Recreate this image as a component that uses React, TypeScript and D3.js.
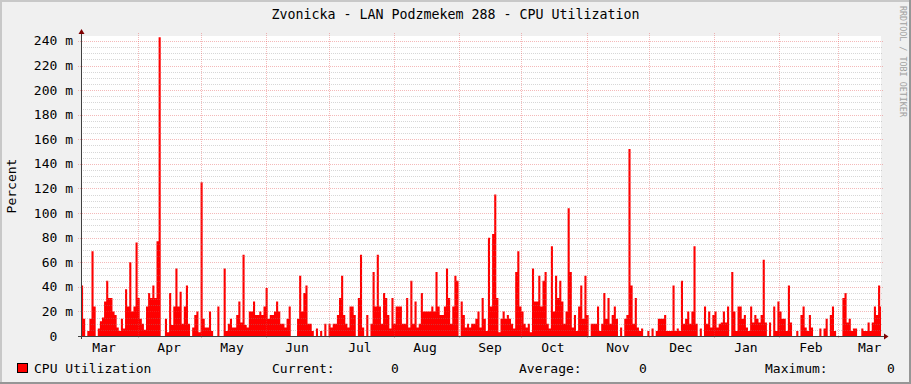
import React from "react";
import * as d3 from "d3";

const title = "Zvonicka - LAN Podzmekem 288 - CPU Utilization";
const yAxisTitle = "Percent";
const seriesName = "CPU Utilization";
const watermark = "RRDTOOL / TOBI OETIKER";

// time span of the graph (one value per day)
const startDate = new Date(2013, 2, 5);
const endDate = new Date(2014, 2, 21, 9, 36);

// daily CPU utilization values, in milli-percent
const cpuMilli: number[] = [
  // Mar - May
  41, 14, 0, 4, 14, 69, 24, 0, 6, 12, 15, 28, 45, 31, 31, 20, 17, 7, 4, 14,
  6, 38, 24, 60, 20, 24, 76, 31, 14, 10, 5, 24, 35, 31, 41, 31, 77, 243, 0, 0,
  14, 3, 35, 9, 24, 55, 24, 36, 10, 24, 41, 10, 0, 7, 17, 20, 3, 125, 14, 7,
  7, 20, 4, 0, 0, 24, 0, 0, 55, 4, 10, 14, 7, 7, 17, 28,
  // May - Jul
  11, 66, 9, 7, 20, 20, 28, 17, 17, 20, 17, 24, 39, 14, 17, 17, 20, 28, 20, 10,
  10, 7, 14, 24, 0, 0, 0, 14, 49, 20, 35, 41, 10, 10, 4, 0, 6, 0, 4, 0,
  10, 0, 10, 7, 10, 10, 17, 31, 49, 17, 10, 7, 24, 24, 17, 0, 31, 66, 7, 0,
  17, 0, 10, 52, 24, 66, 24, 10, 35, 31, 17, 6, 31, 10, 24, 24,
  // Jul - Oct
  24, 10, 10, 31, 7, 45, 10, 28, 7, 10, 35, 20, 20, 20, 20, 24, 20, 52, 24, 17,
  17, 24, 55, 31, 10, 24, 49, 45, 0, 28, 17, 7, 10, 7, 10, 10, 14, 20, 7, 31,
  14, 4, 80, 24, 83, 115, 31, 3, 14, 20, 14, 17, 14, 10, 6, 52, 69, 24, 20, 10,
  7, 10, 3, 55, 28, 28, 49, 24, 45, 52, 10, 6, 73, 20, 49, 31, 45,
  // Oct - Dec
  28, 10, 20, 104, 52, 7, 17, 4, 24, 41, 14, 49, 17, 0, 10, 10, 10, 24, 4, 10,
  35, 14, 31, 10, 17, 24, 14, 0, 7, 0, 14, 17, 152, 41, 10, 31, 7, 4, 6, 0,
  0, 4, 0, 6, 0, 4, 14, 14, 14, 17, 4, 4, 4, 41, 4, 6, 4, 45, 10, 14,
  20, 10, 20, 73, 10, 0, 6, 0, 24, 10, 20, 7, 17, 20, 7, 10,
  // Dec - Mar
  11, 20, 11, 24, 0, 52, 20, 4, 24, 24, 14, 17, 7, 4, 24, 11, 17, 14, 11, 17,
  62, 11, 0, 11, 0, 24, 4, 28, 20, 14, 14, 4, 41, 11, 0, 0, 4, 0, 17, 24,
  7, 4, 17, 7, 0, 0, 0, 6, 0, 6, 14, 0, 17, 24, 4, 0, 0, 0, 31, 35,
  11, 14, 4, 6, 6, 0, 0, 6, 4, 4, 11, 4, 11, 24, 17, 41, 24,
];

const yMax = 244;
const yTicks = [0, 20, 40, 60, 80, 100, 120, 140, 160, 180, 200, 220, 240];
const yMinorStep = 5;
const yTickSuffix = " m";
const monthLabels = ["Mar", "Apr", "May", "Jun", "Jul", "Aug", "Sep", "Oct", "Nov", "Dec", "Jan", "Feb", "Mar"];
const legendStats = [
  { label: "Current:", value: "0" },
  { label: "Average:", value: "0" },
  { label: "Maximum:", value: "0" },
];

const W = 911;
const H = 384;
const PL = 81;
const PR = 881;
const PT = 36;
const PB = 336;
const FONT = "'DejaVu Sans Mono', 'Liberation Mono', monospace";

export default function App() {
  const x = d3.scaleTime().domain([startDate, endDate]).range([PL, PR]);
  const y = d3.scaleLinear().domain([0, yMax]).range([PB, PT]);

  const pts = cpuMilli.map((v, i) => ({ t: d3.timeDay.offset(startDate, i), v }));
  pts.push({ t: d3.timeDay.offset(startDate, cpuMilli.length), v: cpuMilli[cpuMilli.length - 1] });

  const areaGen = d3
    .area<{ t: Date; v: number }>()
    .x((d) => x(d.t))
    .y0(PB)
    .y1((d) => y(d.v))
    .curve(d3.curveStepAfter);

  const minor: number[] = [];
  for (let v = yMinorStep; v < yMax; v += yMinorStep) if (v % 20 !== 0) minor.push(v);

  const monthLines = d3.timeMonth.range(d3.timeDay.offset(startDate, 1), endDate);
  const monthStarts = d3.timeMonth.range(new Date(2013, 2, 1), endDate);
  const labels = monthStarts
    .map((m, i) => ({ c: d3.timeDay.offset(m, 15), name: monthLabels[i] }))
    .filter((d) => d.c >= startDate && d.c <= endDate);

  const px = (v: number) => Math.round(v) + 0.5;

  const legendX = [272, 519, 765];
  const legendValX = [391, 639, 887];

  return (
    <svg
      width={W}
      height={H}
      style={{ position: "absolute", left: 0, top: 0, fontFamily: FONT }}
    >
      <rect x={0} y={0} width={W} height={H} fill="#f0f0f0" />
      {/* frame shading */}
      <rect x={0} y={0} width={W} height={2} fill="#c8c8c8" />
      <rect x={0} y={0} width={2} height={H} fill="#c8c8c8" />
      <rect x={0} y={H - 2} width={W} height={2} fill="#969696" />
      <rect x={W - 2} y={0} width={2} height={H} fill="#969696" />

      <text x={455.5} y={19} textAnchor="middle" fontSize={13.3} fill="#000">
        {title}
      </text>

      <text
        transform={`translate(899.5,6) rotate(90)`}
        fontSize={8.4}
        fill="#a0a0a0"
      >
        {watermark}
      </text>

      <text transform={`translate(16,${(PT + PB) / 2}) rotate(-90)`} textAnchor="middle" fontSize={13} fill="#000">
        {yAxisTitle}
      </text>

      <rect x={PL} y={PT} width={PR - PL} height={PB - PT} fill="#ffffff" />

      <defs>
        <clipPath id="plotclip">
          <rect x={PL} y={PT} width={PR - PL} height={PB - PT} />
        </clipPath>
      </defs>

      <path d={areaGen(pts) || ""} fill="#ff0000" clipPath="url(#plotclip)" />

      {/* minor grid */}
      {minor.map((v) => (
        <line
          key={"mn" + v}
          x1={PL}
          x2={PR + 2}
          y1={px(y(v))}
          y2={px(y(v))}
          stroke="rgba(140,140,140,0.35)"
          strokeDasharray="1 1"
        />
      ))}
      {/* major grid */}
      {yTicks
        .filter((v) => v > 0)
        .map((v) => (
          <line
            key={"mj" + v}
            x1={PL - 3}
            x2={PR + 2}
            y1={px(y(v))}
            y2={px(y(v))}
            stroke="rgba(225,70,70,0.38)"
            strokeDasharray="1 1"
          />
        ))}
      {monthLines.map((m) => (
        <line
          key={"mv" + m.getTime()}
          x1={px(x(m))}
          x2={px(x(m))}
          y1={PT - 3}
          y2={PB + 3}
          stroke="rgba(225,70,70,0.38)"
          strokeDasharray="1 1"
        />
      ))}

      {/* axes */}
      <line x1={PL - 3} x2={PR + 3} y1={PB + 0.5} y2={PB + 0.5} stroke="#404040" />
      <line x1={PL + 0.5} x2={PL + 0.5} y1={PB + 3} y2={PT - 3} stroke="#404040" />
      <path d={`M${PR + 3},${PB - 2.5} L${PR + 7.5},${PB + 0.5} L${PR + 3},${PB + 3.5} Z`} fill="#7f0000" />
      <path d={`M${PL - 2.5},${PT - 2} L${PL + 0.5},${PT - 7} L${PL + 3.5},${PT - 2} Z`} fill="#7f0000" />

      {/* y tick labels */}
      {yTicks.map((v) => (
        <text
          key={"yl" + v}
          x={73}
          y={y(v) + 4.5}
          textAnchor="end"
          fontSize={13}
          fill="#000"
          style={{ whiteSpace: "pre" }}
        >
          {v === 0 ? "0  " : `${v}${yTickSuffix}`}
        </text>
      ))}

      {/* month labels */}
      {labels.map((d, i) => (
        <text key={"ml" + i} x={x(d.c)} y={351.5} textAnchor="middle" fontSize={13} fill="#000">
          {d.name}
        </text>
      ))}

      {/* legend */}
      <rect x={17.5} y={363.5} width={10} height={9} fill="#ff0000" stroke="#000" />
      <text x={34} y={372.5} fontSize={13} fill="#000">
        {seriesName}
      </text>
      {legendStats.map((s, i) => (
        <g key={"lg" + i}>
          <text x={legendX[i]} y={372.5} fontSize={13} fill="#000">
            {s.label}
          </text>
          <text x={legendValX[i]} y={372.5} fontSize={13} fill="#000">
            {s.value}
          </text>
        </g>
      ))}
    </svg>
  );
}
